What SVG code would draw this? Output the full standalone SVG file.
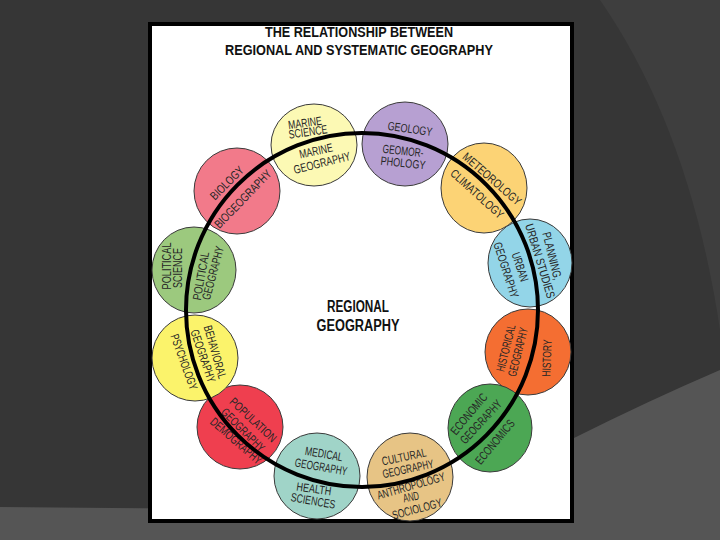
<svg xmlns="http://www.w3.org/2000/svg" width="720" height="540" viewBox="0 0 720 540">
<style>
.node{stroke:#3a3a3a;stroke-width:1}
.lbl{font-family:"Liberation Sans",Arial,sans-serif;font-size:12px;fill:#262626;text-anchor:middle}
.ttl{font-family:"Liberation Sans",Arial,sans-serif;font-weight:bold;fill:#111;text-anchor:middle}
</style>
<g id="background">
<rect width="720" height="540" fill="#363636"/>
<path d="M600,0 Q690,130 720,330 L720,0 Z" fill="#3e3e3e"/>
<path d="M0,507 L574,512 L574,438 Q650,400 720,370 L720,540 L0,540 Z" fill="#555555"/>
</g>
<g id="panel">
<rect x="150" y="24" width="422" height="497" fill="#ffffff" stroke="#000" stroke-width="4"/>
</g>
<g id="title">
<text class="ttl" x="359" y="37" font-size="14" textLength="188" lengthAdjust="spacingAndGlyphs">THE RELATIONSHIP BETWEEN</text>
<text class="ttl" x="359" y="55" font-size="15" textLength="268" lengthAdjust="spacingAndGlyphs">REGIONAL AND SYSTEMATIC GEOGRAPHY</text>
</g>
<g id="marine">
<ellipse class="node" cx="314" cy="145" rx="43" ry="41" fill="#FCF9B4"/>
<text class="lbl" transform="translate(305,123) rotate(-8)" y="4" textLength="34" lengthAdjust="spacingAndGlyphs">MARINE</text>
<text class="lbl" transform="translate(308,132) rotate(-8)" y="4" textLength="39" lengthAdjust="spacingAndGlyphs">SCIENCE</text>
<text class="lbl" transform="translate(316,151) rotate(-12)" y="4" textLength="34" lengthAdjust="spacingAndGlyphs">MARINE</text>
<text class="lbl" transform="translate(322,163) rotate(-14)" y="4" textLength="58" lengthAdjust="spacingAndGlyphs">GEOGRAPHY</text>
</g>
<g id="geology">
<ellipse class="node" cx="405" cy="144" rx="43" ry="42" fill="#B7A0D2"/>
<text class="lbl" transform="translate(410,129) rotate(8)" y="4" textLength="45" lengthAdjust="spacingAndGlyphs">GEOLOGY</text>
<text class="lbl" transform="translate(403,151) rotate(6)" y="4" textLength="41" lengthAdjust="spacingAndGlyphs">GEOMOR-</text>
<text class="lbl" transform="translate(403,163) rotate(6)" y="4" textLength="45" lengthAdjust="spacingAndGlyphs">PHOLOGY</text>
</g>
<g id="meteorology">
<ellipse class="node" cx="484" cy="188" rx="43" ry="45" fill="#FCD375"/>
<text class="lbl" transform="translate(492,179) rotate(41)" y="4" textLength="73" lengthAdjust="spacingAndGlyphs">METEOROLOGY</text>
<text class="lbl" transform="translate(477,194) rotate(42)" y="4" textLength="67" lengthAdjust="spacingAndGlyphs">CLIMATOLOGY</text>
</g>
<g id="planning">
<ellipse class="node" cx="530" cy="263" rx="42" ry="44" fill="#93D5E8"/>
<text class="lbl" transform="translate(552,256) rotate(76)" y="4" textLength="49" lengthAdjust="spacingAndGlyphs">PLANNING,</text>
<text class="lbl" transform="translate(540,261) rotate(73)" y="4" textLength="77" lengthAdjust="spacingAndGlyphs">URBAN STUDIES</text>
<text class="lbl" transform="translate(520,267) rotate(72)" y="4" textLength="30" lengthAdjust="spacingAndGlyphs">URBAN</text>
<text class="lbl" transform="translate(506,270) rotate(72)" y="4" textLength="58" lengthAdjust="spacingAndGlyphs">GEOGRAPHY</text>
</g>
<g id="history">
<ellipse class="node" cx="528" cy="352" rx="43" ry="43" fill="#F46E32"/>
<text class="lbl" transform="translate(506,348) rotate(-76)" y="4" textLength="48" lengthAdjust="spacingAndGlyphs">HISTORICAL</text>
<text class="lbl" transform="translate(518,352) rotate(-76)" y="4" textLength="50" lengthAdjust="spacingAndGlyphs">GEOGRAPHY</text>
<text class="lbl" transform="translate(547,358) rotate(-88)" y="4" textLength="37" lengthAdjust="spacingAndGlyphs">HISTORY</text>
</g>
<g id="economic">
<ellipse class="node" cx="490" cy="428" rx="42" ry="44" fill="#4CA754"/>
<text class="lbl" transform="translate(469,414) rotate(-50)" y="4" textLength="50" lengthAdjust="spacingAndGlyphs">ECONOMIC</text>
<text class="lbl" transform="translate(481,422) rotate(-47)" y="4" textLength="55" lengthAdjust="spacingAndGlyphs">GEOGRAPHY</text>
<text class="lbl" transform="translate(495,442) rotate(-50)" y="4" textLength="54" lengthAdjust="spacingAndGlyphs">ECONOMICS</text>
</g>
<g id="cultural">
<ellipse class="node" cx="410" cy="477" rx="43" ry="44" fill="#E7C485"/>
<text class="lbl" transform="translate(404,457) rotate(-12)" y="4" textLength="45" lengthAdjust="spacingAndGlyphs">CULTURAL</text>
<text class="lbl" transform="translate(408,469) rotate(-12)" y="4" textLength="52" lengthAdjust="spacingAndGlyphs">GEOGRAPHY</text>
<text class="lbl" transform="translate(411,486) rotate(-16)" y="4" textLength="70" lengthAdjust="spacingAndGlyphs">ANTHROPOLOGY</text>
<text class="lbl" transform="translate(411,497) rotate(-12)" y="4" textLength="16" lengthAdjust="spacingAndGlyphs">AND</text>
<text class="lbl" transform="translate(417,509) rotate(-15)" y="4" textLength="51" lengthAdjust="spacingAndGlyphs">SOCIOLOGY</text>
</g>
<g id="medical">
<ellipse class="node" cx="317" cy="476" rx="43" ry="43" fill="#A0D4C8"/>
<text class="lbl" transform="translate(324,454) rotate(10)" y="4" textLength="38" lengthAdjust="spacingAndGlyphs">MEDICAL</text>
<text class="lbl" transform="translate(321,467) rotate(10)" y="4" textLength="53" lengthAdjust="spacingAndGlyphs">GEOGRAPHY</text>
<text class="lbl" transform="translate(314,489) rotate(8)" y="4" textLength="35" lengthAdjust="spacingAndGlyphs">HEALTH</text>
<text class="lbl" transform="translate(313,501) rotate(10)" y="4" textLength="45" lengthAdjust="spacingAndGlyphs">SCIENCES</text>
</g>
<g id="population">
<ellipse class="node" cx="240" cy="427" rx="43" ry="42" fill="#EF3F4F"/>
<text class="lbl" transform="translate(253,420) rotate(43)" y="4" textLength="59" lengthAdjust="spacingAndGlyphs">POPULATION</text>
<text class="lbl" transform="translate(243,430) rotate(45)" y="4" textLength="56" lengthAdjust="spacingAndGlyphs">GEOGRAPHY</text>
<text class="lbl" transform="translate(236,441) rotate(41)" y="4" textLength="64" lengthAdjust="spacingAndGlyphs">DEMOGRAPHY</text>
</g>
<g id="behavioral">
<ellipse class="node" cx="195" cy="358" rx="43" ry="43" fill="#FBF36B"/>
<text class="lbl" transform="translate(215,352) rotate(74)" y="4" textLength="55" lengthAdjust="spacingAndGlyphs">BEHAVIORAL</text>
<text class="lbl" transform="translate(203,356) rotate(71)" y="4" textLength="55" lengthAdjust="spacingAndGlyphs">GEOGRAPHY</text>
<text class="lbl" transform="translate(184,362) rotate(70)" y="4" textLength="58" lengthAdjust="spacingAndGlyphs">PSYCHOLOGY</text>
</g>
<g id="political">
<ellipse class="node" cx="194" cy="270" rx="42" ry="43" fill="#9CC97E"/>
<text class="lbl" transform="translate(167,266) rotate(-90)" y="4" textLength="47" lengthAdjust="spacingAndGlyphs">POLITICAL</text>
<text class="lbl" transform="translate(178,268) rotate(-90)" y="4" textLength="40" lengthAdjust="spacingAndGlyphs">SCIENCE</text>
<text class="lbl" transform="translate(201,276) rotate(-80)" y="4" textLength="49" lengthAdjust="spacingAndGlyphs">POLITICAL</text>
<text class="lbl" transform="translate(213,273) rotate(-75)" y="4" textLength="55" lengthAdjust="spacingAndGlyphs">GEOGRAPHY</text>
</g>
<g id="biology">
<ellipse class="node" cx="237" cy="191" rx="43" ry="43" fill="#F27A8A"/>
<text class="lbl" transform="translate(227,183) rotate(-45)" y="4" textLength="42" lengthAdjust="spacingAndGlyphs">BIOLOGY</text>
<text class="lbl" transform="translate(243,199) rotate(-46)" y="4" textLength="76" lengthAdjust="spacingAndGlyphs">BIOGEOGRAPHY</text>
</g>
<g id="connectors">
<ellipse cx="362" cy="310" rx="176" ry="177" fill="none" stroke="#000" stroke-width="4"/>
</g>
<g id="regional">
<text class="ttl" x="358" y="312" font-size="16" textLength="62" lengthAdjust="spacingAndGlyphs">REGIONAL</text>
<text class="ttl" x="358" y="331" font-size="16" textLength="83" lengthAdjust="spacingAndGlyphs">GEOGRAPHY</text>
</g>
</svg>
